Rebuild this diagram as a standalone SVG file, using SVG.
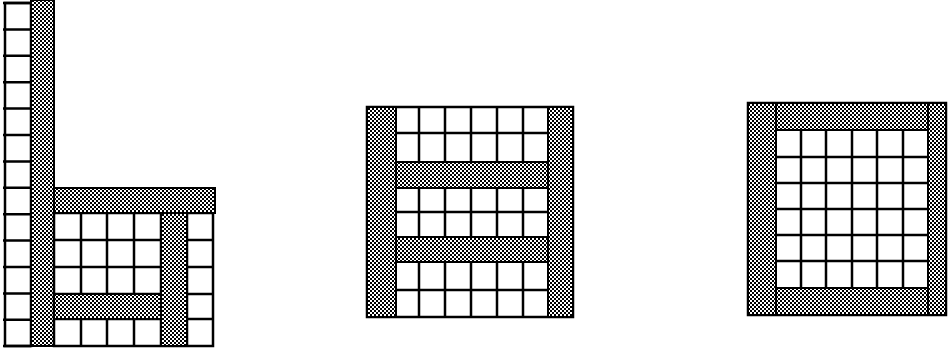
<svg xmlns="http://www.w3.org/2000/svg" width="948" height="354" viewBox="0 0 948 354">
<defs>
<pattern id="chk" width="4" height="4" patternUnits="userSpaceOnUse">
<rect width="4" height="4" fill="#fff"/>
<rect width="2" height="2" fill="#000"/>
<rect x="2" y="2" width="2" height="2" fill="#000"/>
</pattern>
</defs>
<style>
.g{fill:url(#chk);stroke:#000;stroke-width:2}
.c{fill:#fff;stroke:#000;stroke-width:2.5}
.l{stroke:#000;stroke-width:2.5;fill:none}
</style>
<rect width="948" height="354" fill="#fff"/>

<g id="chair">
<rect class="c" x="5" y="3" width="26" height="343"/>
<path class="l" d="M3 3H31M3 29.4H31M3 55.8H31M3 82.2H31M3 108.6H31M3 135H31M3 161.4H31M3 187.8H31M3 214.2H31M3 240.6H31M3 267H31M3 293.4H31M3 319.8H31M3 346H31"/>
<rect class="g" x="31" y="0" width="23" height="346"/>
<rect class="c" x="54" y="213" width="159" height="133"/>
<path class="l" d="M54 240H213M54 267H213M54 294H213M54 319H213M81 213V346M107 213V346M134 213V346M161 213V346M187 213V346"/>
<rect class="g" x="54" y="188" width="161" height="25"/>
<rect class="g" x="161" y="213" width="26" height="133"/>
<rect class="g" x="54" y="294" width="107" height="25"/>
</g>

<g id="ladder">
<rect class="c" x="367" y="107" width="206" height="210"/>
<path class="l" d="M396 133H548M396 212H548M396 290H548M419 107V317M445 107V317M471 107V317M497 107V317M523 107V317"/>
<rect class="g" x="367" y="107" width="29" height="210"/>
<rect class="g" x="548" y="107" width="25" height="210"/>
<rect class="g" x="396" y="162" width="152" height="26"/>
<rect class="g" x="396" y="237" width="152" height="25"/>
</g>

<g id="frame">
<rect class="c" x="748" y="103" width="198" height="212"/>
<path class="l" d="M776 157H928M776 183H928M776 209H928M776 235H928M776 261H928M801 130V288M826 130V288M852 130V288M877 130V288M903 130V288"/>
<rect class="g" x="748" y="103" width="28" height="212"/>
<rect class="g" x="928" y="103" width="18" height="212"/>
<rect class="g" x="776" y="103" width="152" height="27"/>
<rect class="g" x="776" y="288" width="152" height="27"/>
</g>
</svg>
